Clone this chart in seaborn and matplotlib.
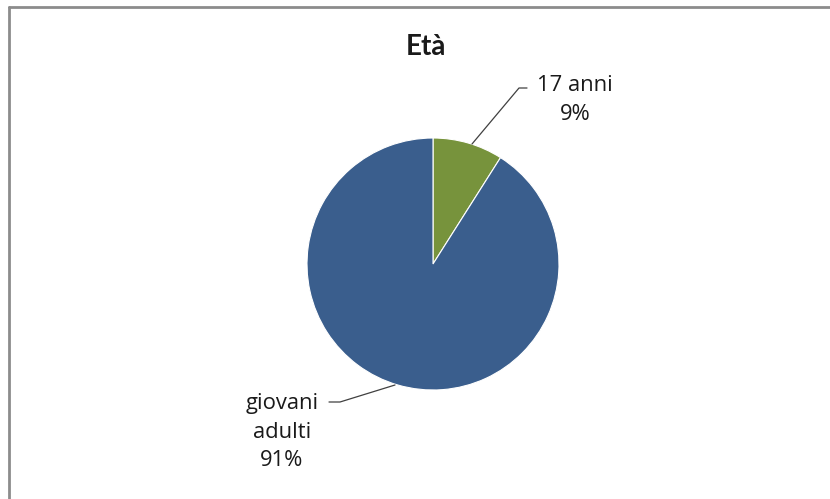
import numpy as np
import matplotlib
matplotlib.use("Agg")
import matplotlib.pyplot as plt
import seaborn as sns

sns.set_theme(style="white")
plt.rcParams['font.family'] = ['Open Sans', 'DejaVu Sans']

categories = ["17 anni", "giovani adulti"]
label_texts = ["17 anni\n9%", "giovani\nadulti\n91%"]
values = [9, 91]
colors = ["#77933C", "#3A5E8D"]
title = "Età"

W, H = 830, 499
fig = plt.figure(figsize=(W / 100, H / 100), dpi=100)
fig.patch.set_facecolor("white")

cx, cy, r = 433, 264, 126
ax = fig.add_axes([(cx - r) / W, (H - cy - r) / H, 2 * r / W, 2 * r / H])
wedges, _ = ax.pie(values, colors=colors, startangle=90, counterclock=False,
                   radius=1, wedgeprops=dict(linewidth=0.8, edgecolor="white"))
ax.set_xlim(-1, 1)
ax.set_ylim(-1, 1)
ax.set_aspect("equal")
ax.axis("off")

def px2d(px, py):
    return (px - cx) / r, (cy - py) / r

# leader lines (edge point on wedge -> elbow -> text)
leaders = [
    [(472, 144), (519, 88), (527, 88)],
    [(395, 385), (340, 402), (329, 402)],
]
for pts in leaders:
    xs, ys = zip(*[px2d(*p) for p in pts])
    ax.plot(xs, ys, color="#404040", lw=0.9, clip_on=False)

fig.text(575 / W, 1 - 100 / H, label_texts[0], ha="center", va="center",
         fontsize=15.8, color="#1a1a1a", linespacing=1.5)
fig.text(282 / W, 1 - 432 / H, label_texts[1], ha="center", va="center",
         fontsize=15.8, color="#1a1a1a", linespacing=1.5)

fig.text(426 / W, 1 - 47 / H, title, ha="center", va="center",
         fontsize=20, fontweight="bold", color="#1a1a1a", family=['Lato', 'DejaVu Sans'])

# chart border (top and left visible)
bx0, by0 = 8.5 / W, 1 - 6.5 / H
fig.add_artist(plt.Line2D([bx0, 1], [by0, by0], color="#8c8c8c", lw=2, transform=fig.transFigure))
fig.add_artist(plt.Line2D([bx0, bx0], [0, by0], color="#8c8c8c", lw=2, transform=fig.transFigure))

fig.savefig("out.png", dpi=100, facecolor="white")
